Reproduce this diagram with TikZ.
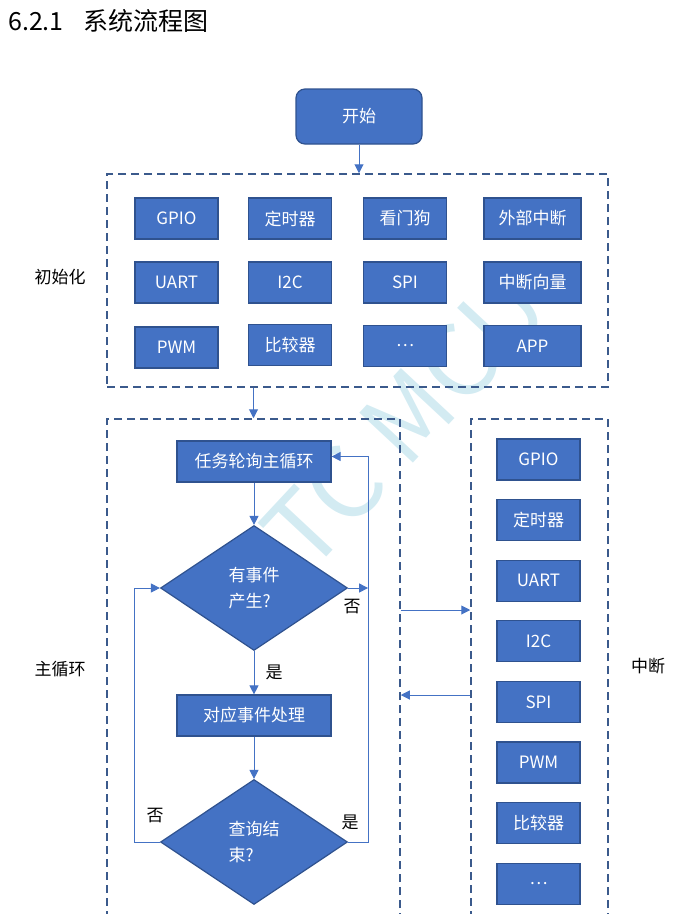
\documentclass[tikz,border=0pt]{standalone}
\usepackage{fontspec}
\setmainfont{Noto Sans CJK SC}
\usetikzlibrary{shapes.geometric,arrows.meta}
\definecolor{boxblue}{HTML}{4472C4}
\definecolor{edgeblue}{HTML}{2F528F}
\definecolor{dashblue}{HTML}{3B5A8C}
\definecolor{markcyan}{HTML}{D3EBF2}
\begin{document}
\begin{tikzpicture}[x=1pt,y=-1pt,
    box/.style={draw=edgeblue,fill=boxblue,line width=1.2pt,text=white,
      minimum width=83pt,minimum height=41pt,inner sep=0pt,
      font=\fontsize{17}{20}\selectfont},
    startbox/.style={box,rounded corners=9pt,minimum width=126pt,minimum height=55pt},
    decision/.style={box,diamond,minimum width=187pt,minimum height=125pt,align=left,
      font=\fontsize{17}{26}\selectfont},
    group/.style={draw=dashblue,line width=1.5pt,dash pattern=on 8pt off 5pt,inner sep=0pt},
    line/.style={draw=boxblue,line width=1pt,-{Triangle[length=9pt,width=9pt]}},
    lbl/.style={font=\fontsize{17}{20}\selectfont,inner sep=0pt}]
  \clip (0,0) rectangle (685,914);
  \node[text=markcyan,rotate=47,font=\fontsize{100}{100}\selectfont] (mark) at (385,440) {STC MCU};
  \node[anchor=west,font=\fontsize{25}{30}\selectfont,inner sep=0pt] (title) at (8,21) {6.2.1\hspace{20pt}系统流程图};
  % start and initialisation
  \node[startbox] (start) at (359,116.5) {开始};
  \node[group,minimum width=501pt,minimum height=213pt] (init) at (357.5,280.5) {};
  \node[lbl] (initlbl) at (60,277) {初始化};
  \foreach \txt/\x/\y/\w [count=\i] in {GPIO/176.5/218.5/83,定时器/290/218.5/83,看门狗/405/218.5/83,外部中断/532.5/218.5/97,
      UART/176.5/282.5/83,I2C/290/282.5/83,SPI/405/282.5/83,中断向量/532.5/282.5/97,
      PWM/176.5/347.5/83,比较器/290/345/83,…/405/346/83,APP/532.5/346/97}
    \node[box,minimum width=\w pt] (ini\i) at (\x,\y) {\txt};
  \draw[line] (start.south) -- (start.south |- init.north);
  % main loop
  \node[group,minimum width=293pt,minimum height=521pt] (main) at (253.5,679.5) {};
  \node[group,minimum width=137pt,minimum height=521pt] (intr) at (539.5,679.5) {};
  \node[lbl] (mainlbl) at (60,669) {主循环};
  \node[lbl] (intrlbl) at (648,666) {中断};
  \draw[line] (init.south -| main.north) -- (main.north);
  \node[box,minimum width=154pt] (task) at (254,461.5) {任务轮询主循环};
  \node[decision] (ask) at (254,588) {有事件\\产生?};
  \node[box,minimum width=154pt] (handle) at (254,715.5) {对应事件处理};
  \node[decision] (done) at (254,842) {查询结\\束?};
  \draw[line] (task.south) -- (ask.north);
  \draw[line] (ask.south) -- node[lbl,right=11pt] {是} (handle.north);
  \draw[line] (handle.south) -- (done.north);
  \draw[line] (done.west) -- ++(-25,0) |- (ask.west);
  \draw[line] (ask.east) -- ++(20,0);
  \draw[line] (done.east) -- ++(20,0) |- ([yshift=5pt]task.east);
  \node[lbl] (no1) at (352,607) {否};
  \node[lbl] (no2) at (155,816) {否};
  \node[lbl] (yes2) at (350,822) {是};
  % interrupts
  \foreach \txt [count=\i from 0] in {GPIO,定时器,UART,I2C,SPI,PWM,比较器,…}
    \node[box] (irq\i) at (538.5,459.5+60.6*\i) {\txt};
  \draw[line] (main.east |- 0,610) -- (intr.west |- 0,610);
  \draw[line] (intr.west |- 0,695) -- (main.east |- 0,695);
\end{tikzpicture}
\end{document}
